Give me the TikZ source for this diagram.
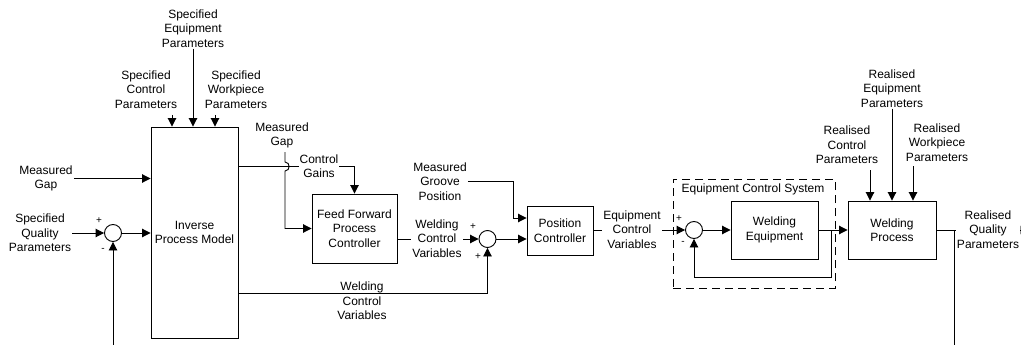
\documentclass[tikz,border=0pt]{standalone}
\usepackage{fontspec}
\setmainfont{Liberation Sans}
\usetikzlibrary{arrows.meta}
\begin{document}
\begin{tikzpicture}[x=1pt,y=-1pt,
  every node/.style={font=\fontsize{12}{14.5}\selectfont},
  lbl/.style={align=center,inner sep=1pt},
  lblw/.style={align=center,inner sep=1pt,fill=white},
  blk/.style={draw,line width=0.9pt,align=center,inner sep=0pt},
  sumj/.style={draw,circle,line width=0.9pt,minimum size=17pt,inner sep=0pt},
  sgn/.style={inner sep=0pt,font=\fontsize{10}{12}\selectfont},
  arr/.style={line width=0.9pt,-{Triangle[length=8.5pt,width=8.5pt]}},
  ln/.style={line width=0.9pt}]
\useasboundingbox (0,0) rectangle (1021,345);

% blocks
\node[blk,minimum width=87pt,minimum height=211pt] (ipm) at (194.5,232.5) {Inverse\\Process Model};
\node[blk,minimum width=85pt,minimum height=69pt] (ff) at (354.5,228.5) {Feed Forward\\Process\\Controller};
\node[blk,minimum width=66pt,minimum height=49pt] (pc) at (560,230.5) {Position\\Controller};
\node[draw,dash pattern=on 8pt off 5pt,line width=0.9pt,minimum width=162pt,minimum height=109pt,inner sep=0pt] (ecs) at (754,233.5) {};
\node[lbl] (ecsl) at (753,189) {Equipment Control System};
\node[blk,minimum width=87pt,minimum height=58pt] (we) at (774.5,230) {Welding\\Equipment};
\node[blk,minimum width=88pt,minimum height=58pt] (wp) at (892,230) {Welding\\Process};

% summing junctions
\node[sumj] (s1) at (113,233) {};
\node[sumj] (s2) at (487.5,239) {};
\node[sumj] (s3) at (694,230) {};
\node[sgn] (p1) at (99,221) {+};
\node[sgn] (m1) at (103,250) {-};
\node[sgn] (p2) at (473,227) {+};
\node[sgn] (p3) at (478,257) {+};
\node[sgn] (p4) at (679,219) {+};
\node[sgn] (m4) at (683,243) {-};

% texts
\node[lbl] (se) at (193,28.5) {Specified\\Equipment\\Parameters};
\node[lbl] (sc) at (146,89.5) {Specified\\Control\\Parameters};
\node[lbl] (sw) at (236,89.5) {Specified\\Workpiece\\Parameters};
\node[lbl] (mg1) at (46,178.5) {Measured\\Gap};
\node[lbl] (qp) at (40,233) {Specified\\Quality\\Parameters};
\node[lbl] (mg2) at (282,135.5) {Measured\\Gap};
\node[lbl] (mgp) at (440,181.5) {Measured\\Groove\\Position};
\node[lbl] (rep) at (892,88.5) {Realised\\Equipment\\Parameters};
\node[lbl] (rcp) at (847,145) {Realised\\Control\\Parameters};
\node[lbl] (rwp) at (937,142.5) {Realised\\Workpiece\\Parameters};

% coordinates
\coordinate (c1) at (172,115);
\coordinate (c2) at (215,115);
\coordinate (y1) at (0,166);
\coordinate (y2) at (0,293);
\coordinate (fb1) at (113,345);
\coordinate (g0) at (285,152);
\coordinate (g1) at (285,162);
\coordinate (g2) at (285,171);
\coordinate (g3) at (285,228.5);
\coordinate (k1) at (513,218);
\coordinate (f3) at (831,277);
\coordinate (r1) at (870,170);
\coordinate (r2) at (913,166);
\coordinate (out) at (1029,230);
\coordinate (f4) at (954,345);

% connectors into inverse model
\draw[arr] (c1) -- (c1 |- ipm.north);
\draw[arr] (se.south) -- (se.south |- ipm.north);
\draw[arr] (c2) -- (c2 |- ipm.north);
\draw[arr] (mg1.east) -- (ipm.west |- mg1.east);
\draw[arr] (qp.east) -- (s1.west);
\draw[arr] (s1.east) -- (ipm.west |- s1.east);
\draw[arr] (fb1) -- (s1.south);

% control gains
\draw[arr] (ipm.east |- y1) -- (ff.north |- y1) -- (ff.north);
\node[lblw] (cg) at (319,166) {Control\\Gains};
% measured gap with hop
\draw[arr] (g0) -- (g1) .. controls (290.5,162) and (290.5,171) .. (g2) -- (g3) -- (ff.west);

% feed forward output
\draw[arr] (ff.east |- s2.west) -- (s2.west);
\node[lblw] (wcv1) at (437,238.5) {Welding\\Control\\Variables};
\draw[arr] (ipm.east |- y2) -- (s2.south |- y2) -- (s2.south);
\node[lbl] (wcv2) at (362,301) {Welding\\Control\\Variables};

% position controller
\draw[arr] (s2.east) -- (pc.west |- s2.east);
\draw[arr] (mgp.east) -| (k1) -- (pc.west |- k1);
\draw[arr] (pc.east |- s3.west) -- (s3.west);
\node[lblw] (ecv) at (632,229.5) {Equipment\\Control\\Variables};

% equipment control system
\draw[arr] (s3.east) -- (we.west);
\draw[arr] (we.east) -- (wp.west);
\draw[arr] (f3 |- we.east) -- (f3) -| (s3.south);

% welding process
\draw[arr] (r1) -- (r1 |- wp.north);
\draw[arr] (rep.south) -- (rep.south |- wp.north);
\draw[arr] (r2) -- (r2 |- wp.north);
\draw[arr] (wp.east) -- (out);
\node[lblw] (rqp) at (988,229.5) {Realised\\Quality\\Parameters};
\draw[ln] (wp.east -| f4) -- (f4);
\end{tikzpicture}
\end{document}
